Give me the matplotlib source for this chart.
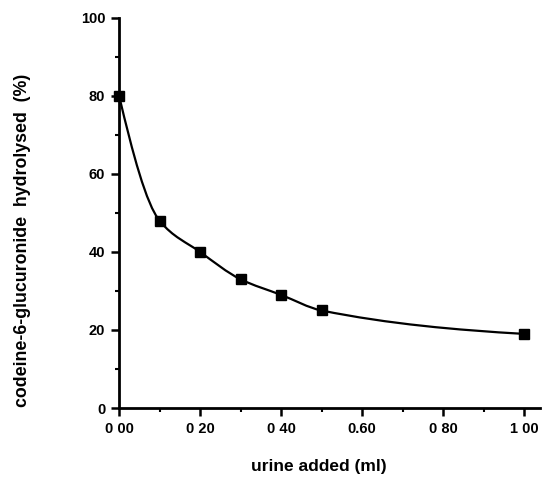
import matplotlib
matplotlib.use("Agg")
from matplotlib import pyplot as plt
from matplotlib.path import Path
from matplotlib.patches import PathPatch
from matplotlib.ticker import MultipleLocator

# data
urine_ml = [0.0, 0.1, 0.2, 0.3, 0.4, 0.5, 1.0]
hydrolysed = [80, 48, 40, 33, 29, 25, 19]

x_ticks = [0.0, 0.2, 0.4, 0.6, 0.8, 1.0]
x_ticklabels = ["0 00", "0 20", "0 40", "0.60", "0 80", "1 00"]
y_ticks = [0, 20, 40, 60, 80, 100]

plt.rcParams['font.family'] = ['Liberation Sans', 'DejaVu Sans']
plt.rcParams['font.weight'] = 'bold'

fig = plt.figure(figsize=(5.44, 4.84), dpi=100)
ax = fig.add_axes([0.219, 0.157, 0.774, 0.806])

# smooth monotone curve (pchip-like hermite tangents drawn as bezier segments)
n = len(urine_ml)
h = [urine_ml[i + 1] - urine_ml[i] for i in range(n - 1)]
d = [(hydrolysed[i + 1] - hydrolysed[i]) / h[i] for i in range(n - 1)]
m = [0.0] * n
for i in range(1, n - 1):
	w1 = 2 * h[i] + h[i - 1]
	w2 = h[i] + 2 * h[i - 1]
	m[i] = (w1 + w2) / (w1 / d[i - 1] + w2 / d[i])
m[0] = ((2 * h[0] + h[1]) * d[0] - h[0] * d[1]) / (h[0] + h[1])
m[-1] = d[-1] * 0.5

verts = [(urine_ml[0], hydrolysed[0])]
codes = [Path.MOVETO]
for i in range(n - 1):
	x0, y0 = urine_ml[i], hydrolysed[i]
	x1, y1 = urine_ml[i + 1], hydrolysed[i + 1]
	verts += [(x0 + h[i] / 3, y0 + m[i] * h[i] / 3),
		(x1 - h[i] / 3, y1 - m[i + 1] * h[i] / 3),
		(x1, y1)]
	codes += [Path.CURVE4] * 3
ax.add_patch(PathPatch(Path(verts, codes), facecolor='none', edgecolor='black', lw=1.6, clip_on=False))

ax.plot(urine_ml, hydrolysed, linestyle='none', marker='s', color='black', markersize=6.5, clip_on=False, zorder=3)

ax.set_xlim(0, 1.04)
ax.set_ylim(0, 100)
for s in ['top', 'right']:
	ax.spines[s].set_visible(False)
for s in ['left', 'bottom']:
	ax.spines[s].set_linewidth(2)

ax.set_xticks(x_ticks)
ax.set_xticklabels(x_ticklabels)
ax.set_yticks(y_ticks)
ax.xaxis.set_minor_locator(MultipleLocator(0.1))
ax.yaxis.set_minor_locator(MultipleLocator(10))
ax.tick_params(which='major', direction='out', length=6, width=1.8, labelsize=10.5, pad=4)
ax.tick_params(which='minor', direction='out', length=3, width=1.5)

ax.set_ylabel("codeine-6-glucuronide  hydrolysed  (%)", fontsize=12.8, fontweight='bold', va='center')
ax.yaxis.set_label_coords(-0.23, 0.43)
ax.set_xlabel("urine added (ml)", fontsize=12.5, fontweight='bold', va='center')
ax.xaxis.set_label_coords(0.475, -0.149)

plt.savefig("out.png", dpi=100)
